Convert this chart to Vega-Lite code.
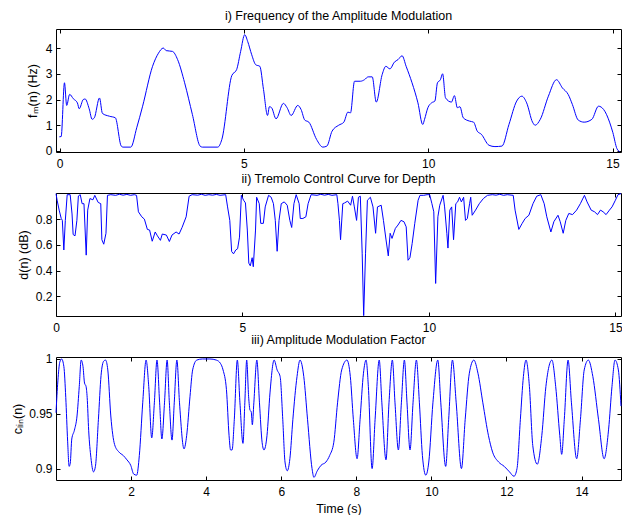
{
  "$schema": "https://vega.github.io/schema/vega-lite/v6.json",
  "autosize": {"type": "pad"},
  "padding": {"left": 11, "top": 9, "right": 0, "bottom": 0},
  "background": "white",
  "config": {
    "font": "Liberation Sans",
    "view": {"stroke": "black", "strokeWidth": 1},
    "axis": {"grid": false, "domain": false, "tickColor": "black", "tickSize": -4, "labelColor": "black", "labelFontSize": 12, "labelFont": "Liberation Sans", "titleColor": "black", "titleFontSize": 12.5, "titleFontWeight": "normal", "titleFont": "Liberation Sans", "labelFlush": false, "format": "~g"},
    "axisX": {"labelPadding": 10, "titlePadding": 5},
    "axisY": {"labelPadding": 8, "titlePadding": 4},
    "title": {"fontSize": 12.5, "fontWeight": "normal", "font": "Liberation Sans", "color": "black", "baseline": "alphabetic", "offset": 6, "anchor": "middle"},
    "line": {"color": "#0000ff", "strokeWidth": 1, "clip": true}
  },
  "bounds": "flush",
  "spacing": 41,
  "datasets": {
    "fm": [
      {"t": -0.01, "v": 0.55}, {"t": 0.04, "v": 0.56}, {"t": 0.13, "v": 2.65}, {"t": 0.19, "v": 1.77}, {"t": 0.27, "v": 2.2}, {"t": 0.37, "v": 2.03}, {"t": 0.48, "v": 1.87}, {"t": 0.53, "v": 1.64}, {"t": 0.64, "v": 2.0}, {"t": 0.69, "v": 2.02}, {"t": 0.8, "v": 1.64}, {"t": 0.88, "v": 1.23}, {"t": 0.94, "v": 1.29}, {"t": 1.08, "v": 2.06}, {"t": 1.16, "v": 1.46}, {"t": 1.35, "v": 1.35}, {"t": 1.51, "v": 1.29}, {"t": 1.67, "v": 0.19}, {"t": 1.72, "v": 0.15}, {"t": 1.93, "v": 0.15}, {"t": 2.09, "v": 0.9}, {"t": 2.25, "v": 1.74}, {"t": 2.52, "v": 3.29}, {"t": 2.68, "v": 3.8}, {"t": 2.81, "v": 4.0}, {"t": 2.89, "v": 3.9}, {"t": 3.06, "v": 3.87}, {"t": 3.2, "v": 3.55}, {"t": 3.39, "v": 2.65}, {"t": 3.6, "v": 1.42}, {"t": 3.81, "v": 0.19}, {"t": 3.87, "v": 0.15}, {"t": 4.29, "v": 0.15}, {"t": 4.4, "v": 0.45}, {"t": 4.67, "v": 2.93}, {"t": 4.8, "v": 3.16}, {"t": 4.91, "v": 3.87}, {"t": 5.02, "v": 4.52}, {"t": 5.1, "v": 4.26}, {"t": 5.21, "v": 3.74}, {"t": 5.32, "v": 3.35}, {"t": 5.43, "v": 3.29}, {"t": 5.53, "v": 2.39}, {"t": 5.64, "v": 1.38}, {"t": 5.69, "v": 1.72}, {"t": 5.75, "v": 1.68}, {"t": 5.87, "v": 1.25}, {"t": 6.07, "v": 1.85}, {"t": 6.17, "v": 1.68}, {"t": 6.28, "v": 1.38}, {"t": 6.46, "v": 1.77}, {"t": 6.55, "v": 1.61}, {"t": 6.65, "v": 1.2}, {"t": 6.76, "v": 1.12}, {"t": 6.97, "v": 0.45}, {"t": 7.14, "v": 0.15}, {"t": 7.25, "v": 0.19}, {"t": 7.39, "v": 0.77}, {"t": 7.57, "v": 1.0}, {"t": 7.71, "v": 1.12}, {"t": 7.82, "v": 1.51}, {"t": 7.89, "v": 1.48}, {"t": 8.0, "v": 2.71}, {"t": 8.16, "v": 2.71}, {"t": 8.27, "v": 2.77}, {"t": 8.37, "v": 2.88}, {"t": 8.48, "v": 2.88}, {"t": 8.59, "v": 1.9}, {"t": 8.75, "v": 2.97}, {"t": 8.85, "v": 3.29}, {"t": 8.96, "v": 3.19}, {"t": 9.08, "v": 3.45}, {"t": 9.18, "v": 3.55}, {"t": 9.29, "v": 3.7}, {"t": 9.4, "v": 3.29}, {"t": 9.56, "v": 2.65}, {"t": 9.72, "v": 1.87}, {"t": 9.85, "v": 1.03}, {"t": 9.9, "v": 1.23}, {"t": 9.99, "v": 1.68}, {"t": 10.09, "v": 1.87}, {"t": 10.18, "v": 1.94}, {"t": 10.25, "v": 2.65}, {"t": 10.33, "v": 2.77}, {"t": 10.39, "v": 3.0}, {"t": 10.47, "v": 2.06}, {"t": 10.63, "v": 1.9}, {"t": 10.71, "v": 2.15}, {"t": 10.79, "v": 1.68}, {"t": 10.86, "v": 1.72}, {"t": 10.95, "v": 1.29}, {"t": 11.12, "v": 1.16}, {"t": 11.23, "v": 1.12}, {"t": 11.33, "v": 0.77}, {"t": 11.44, "v": 0.65}, {"t": 11.65, "v": 0.22}, {"t": 11.81, "v": 0.17}, {"t": 12.0, "v": 0.19}, {"t": 12.19, "v": 1.03}, {"t": 12.4, "v": 1.94}, {"t": 12.54, "v": 2.13}, {"t": 12.67, "v": 1.87}, {"t": 12.83, "v": 1.12}, {"t": 12.9, "v": 1.0}, {"t": 13.04, "v": 1.23}, {"t": 13.26, "v": 2.13}, {"t": 13.48, "v": 2.77}, {"t": 13.64, "v": 2.45}, {"t": 13.8, "v": 2.19}, {"t": 13.91, "v": 1.81}, {"t": 14.07, "v": 1.2}, {"t": 14.23, "v": 1.12}, {"t": 14.44, "v": 1.23}, {"t": 14.62, "v": 1.74}, {"t": 14.76, "v": 1.61}, {"t": 14.92, "v": 1.12}, {"t": 15.01, "v": 0.71}, {"t": 15.12, "v": 0.09}, {"t": 15.2, "v": -0.03}
    ],
    "depth": [
      {"t": 0, "v": 0.998}, {"t": 0.03, "v": 0.947}, {"t": 0.085, "v": 0.87}, {"t": 0.14, "v": 0.805}, {"t": 0.17, "v": 0.79}, {"t": 0.21, "v": 0.56}, {"t": 0.25, "v": 0.79}, {"t": 0.3, "v": 0.99}, {"t": 0.38, "v": 0.99}, {"t": 0.43, "v": 0.84}, {"t": 0.46, "v": 0.68}, {"t": 0.51, "v": 0.67}, {"t": 0.56, "v": 0.79}, {"t": 0.6, "v": 0.98}, {"t": 0.65, "v": 0.99}, {"t": 0.7, "v": 0.92}, {"t": 0.75, "v": 0.92}, {"t": 0.81, "v": 0.52}, {"t": 0.85, "v": 0.87}, {"t": 0.91, "v": 0.96}, {"t": 0.99, "v": 0.95}, {"t": 1.04, "v": 0.985}, {"t": 1.13, "v": 0.93}, {"t": 1.2, "v": 0.92}, {"t": 1.23, "v": 0.64}, {"t": 1.28, "v": 0.605}, {"t": 1.34, "v": 0.69}, {"t": 1.38, "v": 0.985}, {"t": 1.47, "v": 0.99}, {"t": 1.6, "v": 0.985}, {"t": 1.7, "v": 0.993}, {"t": 1.8, "v": 0.986}, {"t": 1.9, "v": 0.992}, {"t": 2.0, "v": 0.985}, {"t": 2.1, "v": 0.99}, {"t": 2.16, "v": 0.985}, {"t": 2.21, "v": 0.857}, {"t": 2.3, "v": 0.818}, {"t": 2.37, "v": 0.8}, {"t": 2.45, "v": 0.72}, {"t": 2.51, "v": 0.715}, {"t": 2.58, "v": 0.628}, {"t": 2.66, "v": 0.7}, {"t": 2.72, "v": 0.67}, {"t": 2.8, "v": 0.635}, {"t": 2.85, "v": 0.684}, {"t": 2.96, "v": 0.676}, {"t": 3.04, "v": 0.626}, {"t": 3.11, "v": 0.676}, {"t": 3.22, "v": 0.7}, {"t": 3.3, "v": 0.684}, {"t": 3.38, "v": 0.735}, {"t": 3.49, "v": 0.818}, {"t": 3.57, "v": 0.978}, {"t": 3.65, "v": 0.99}, {"t": 3.8, "v": 0.986}, {"t": 3.9, "v": 0.993}, {"t": 4.0, "v": 0.985}, {"t": 4.1, "v": 0.99}, {"t": 4.2, "v": 0.986}, {"t": 4.3, "v": 0.992}, {"t": 4.4, "v": 0.985}, {"t": 4.55, "v": 0.99}, {"t": 4.6, "v": 0.895}, {"t": 4.66, "v": 0.79}, {"t": 4.71, "v": 0.548}, {"t": 4.76, "v": 0.53}, {"t": 4.82, "v": 0.56}, {"t": 4.87, "v": 0.57}, {"t": 4.92, "v": 0.66}, {"t": 4.97, "v": 0.985}, {"t": 5.03, "v": 0.947}, {"t": 5.08, "v": 0.926}, {"t": 5.13, "v": 0.715}, {"t": 5.17, "v": 0.458}, {"t": 5.21, "v": 0.437}, {"t": 5.26, "v": 0.5}, {"t": 5.29, "v": 0.43}, {"t": 5.35, "v": 0.715}, {"t": 5.38, "v": 0.97}, {"t": 5.45, "v": 0.92}, {"t": 5.49, "v": 0.767}, {"t": 5.56, "v": 0.767}, {"t": 5.61, "v": 0.895}, {"t": 5.7, "v": 0.985}, {"t": 5.77, "v": 0.97}, {"t": 5.83, "v": 0.92}, {"t": 5.88, "v": 0.79}, {"t": 5.93, "v": 0.55}, {"t": 5.98, "v": 0.79}, {"t": 6.04, "v": 0.92}, {"t": 6.12, "v": 0.934}, {"t": 6.2, "v": 0.908}, {"t": 6.27, "v": 0.79}, {"t": 6.32, "v": 0.735}, {"t": 6.38, "v": 0.92}, {"t": 6.44, "v": 0.99}, {"t": 6.52, "v": 0.92}, {"t": 6.55, "v": 0.805}, {"t": 6.62, "v": 0.805}, {"t": 6.7, "v": 0.818}, {"t": 6.76, "v": 0.92}, {"t": 6.84, "v": 0.99}, {"t": 7.0, "v": 0.985}, {"t": 7.1, "v": 0.993}, {"t": 7.2, "v": 0.986}, {"t": 7.3, "v": 0.992}, {"t": 7.4, "v": 0.985}, {"t": 7.53, "v": 0.99}, {"t": 7.56, "v": 0.92}, {"t": 7.6, "v": 0.79}, {"t": 7.63, "v": 0.64}, {"t": 7.69, "v": 0.92}, {"t": 7.74, "v": 0.926}, {"t": 7.82, "v": 0.94}, {"t": 7.9, "v": 0.908}, {"t": 7.95, "v": 0.978}, {"t": 8.0, "v": 0.895}, {"t": 8.06, "v": 0.79}, {"t": 8.11, "v": 0.97}, {"t": 8.16, "v": 0.978}, {"t": 8.21, "v": 0.535}, {"t": 8.25, "v": 0.05}, {"t": 8.3, "v": 0.535}, {"t": 8.35, "v": 0.947}, {"t": 8.43, "v": 0.97}, {"t": 8.5, "v": 0.895}, {"t": 8.57, "v": 0.69}, {"t": 8.62, "v": 0.895}, {"t": 8.72, "v": 0.908}, {"t": 8.78, "v": 0.79}, {"t": 8.85, "v": 0.638}, {"t": 8.91, "v": 0.514}, {"t": 8.96, "v": 0.69}, {"t": 9.01, "v": 0.65}, {"t": 9.1, "v": 0.728}, {"t": 9.17, "v": 0.754}, {"t": 9.25, "v": 0.79}, {"t": 9.33, "v": 0.78}, {"t": 9.39, "v": 0.74}, {"t": 9.44, "v": 0.48}, {"t": 9.49, "v": 0.5}, {"t": 9.55, "v": 0.61}, {"t": 9.62, "v": 0.767}, {"t": 9.71, "v": 0.947}, {"t": 9.76, "v": 0.985}, {"t": 9.86, "v": 0.985}, {"t": 9.95, "v": 0.99}, {"t": 10.02, "v": 0.99}, {"t": 10.08, "v": 0.92}, {"t": 10.13, "v": 0.857}, {"t": 10.18, "v": 0.3}, {"t": 10.24, "v": 0.818}, {"t": 10.29, "v": 0.908}, {"t": 10.38, "v": 0.985}, {"t": 10.42, "v": 0.895}, {"t": 10.48, "v": 0.69}, {"t": 10.51, "v": 0.575}, {"t": 10.56, "v": 0.87}, {"t": 10.61, "v": 0.895}, {"t": 10.66, "v": 0.64}, {"t": 10.72, "v": 0.92}, {"t": 10.77, "v": 0.934}, {"t": 10.82, "v": 0.97}, {"t": 10.87, "v": 0.934}, {"t": 10.93, "v": 0.97}, {"t": 10.98, "v": 0.79}, {"t": 11.03, "v": 0.805}, {"t": 11.09, "v": 0.92}, {"t": 11.12, "v": 0.97}, {"t": 11.16, "v": 0.83}, {"t": 11.25, "v": 0.87}, {"t": 11.35, "v": 0.92}, {"t": 11.46, "v": 0.96}, {"t": 11.57, "v": 0.985}, {"t": 11.7, "v": 0.99}, {"t": 11.8, "v": 0.986}, {"t": 11.9, "v": 0.993}, {"t": 12.0, "v": 0.985}, {"t": 12.1, "v": 0.99}, {"t": 12.26, "v": 0.985}, {"t": 12.31, "v": 0.87}, {"t": 12.41, "v": 0.72}, {"t": 12.5, "v": 0.767}, {"t": 12.58, "v": 0.805}, {"t": 12.68, "v": 0.83}, {"t": 12.79, "v": 0.92}, {"t": 12.89, "v": 0.978}, {"t": 13.0, "v": 0.99}, {"t": 13.09, "v": 0.92}, {"t": 13.16, "v": 0.818}, {"t": 13.27, "v": 0.7}, {"t": 13.35, "v": 0.78}, {"t": 13.46, "v": 0.83}, {"t": 13.52, "v": 0.78}, {"t": 13.6, "v": 0.69}, {"t": 13.67, "v": 0.79}, {"t": 13.75, "v": 0.844}, {"t": 13.85, "v": 0.835}, {"t": 13.96, "v": 0.87}, {"t": 14.06, "v": 0.92}, {"t": 14.17, "v": 0.985}, {"t": 14.24, "v": 0.934}, {"t": 14.35, "v": 0.87}, {"t": 14.44, "v": 0.857}, {"t": 14.52, "v": 0.835}, {"t": 14.6, "v": 0.87}, {"t": 14.67, "v": 0.857}, {"t": 14.75, "v": 0.835}, {"t": 14.84, "v": 0.87}, {"t": 14.91, "v": 0.895}, {"t": 15.0, "v": 0.947}, {"t": 15.07, "v": 0.99}, {"t": 15.15, "v": 0.998}
    ],
    "clin": [
      {"t": 0, "v": 0.951}, {"t": 0.05, "v": 0.98}, {"t": 0.1, "v": 0.997}, {"t": 0.15, "v": 1.0}, {"t": 0.21, "v": 0.993}, {"t": 0.26, "v": 0.965}, {"t": 0.31, "v": 0.925}, {"t": 0.35, "v": 0.902}, {"t": 0.38, "v": 0.905}, {"t": 0.42, "v": 0.927}, {"t": 0.49, "v": 0.935}, {"t": 0.56, "v": 0.948}, {"t": 0.62, "v": 0.975}, {"t": 0.67, "v": 0.999}, {"t": 0.72, "v": 0.993}, {"t": 0.76, "v": 0.978}, {"t": 0.8, "v": 0.975}, {"t": 0.83, "v": 0.965}, {"t": 0.87, "v": 0.935}, {"t": 0.93, "v": 0.91}, {"t": 1.0, "v": 0.897}, {"t": 1.05, "v": 0.902}, {"t": 1.13, "v": 0.945}, {"t": 1.2, "v": 0.985}, {"t": 1.27, "v": 0.998}, {"t": 1.32, "v": 0.999}, {"t": 1.38, "v": 0.99}, {"t": 1.46, "v": 0.948}, {"t": 1.56, "v": 0.922}, {"t": 1.68, "v": 0.915}, {"t": 1.79, "v": 0.912}, {"t": 1.89, "v": 0.908}, {"t": 1.99, "v": 0.903}, {"t": 2.07, "v": 0.895}, {"t": 2.15, "v": 0.894}, {"t": 2.22, "v": 0.912}, {"t": 2.31, "v": 0.96}, {"t": 2.4, "v": 0.999}, {"t": 2.47, "v": 0.975}, {"t": 2.55, "v": 0.928}, {"t": 2.62, "v": 0.96}, {"t": 2.69, "v": 0.999}, {"t": 2.76, "v": 0.96}, {"t": 2.82, "v": 0.927}, {"t": 2.89, "v": 0.96}, {"t": 2.96, "v": 0.999}, {"t": 3.02, "v": 0.96}, {"t": 3.09, "v": 0.926}, {"t": 3.15, "v": 0.96}, {"t": 3.22, "v": 0.999}, {"t": 3.29, "v": 0.96}, {"t": 3.41, "v": 0.918}, {"t": 3.48, "v": 0.93}, {"t": 3.57, "v": 0.966}, {"t": 3.64, "v": 0.99}, {"t": 3.75, "v": 0.999}, {"t": 3.9, "v": 1.0}, {"t": 4.1, "v": 1.0}, {"t": 4.27, "v": 0.999}, {"t": 4.38, "v": 0.996}, {"t": 4.45, "v": 0.99}, {"t": 4.54, "v": 0.972}, {"t": 4.61, "v": 0.93}, {"t": 4.65, "v": 0.917}, {"t": 4.69, "v": 0.917}, {"t": 4.75, "v": 0.945}, {"t": 4.83, "v": 0.999}, {"t": 4.9, "v": 0.96}, {"t": 4.98, "v": 0.923}, {"t": 5.03, "v": 0.96}, {"t": 5.08, "v": 0.999}, {"t": 5.13, "v": 0.966}, {"t": 5.17, "v": 0.953}, {"t": 5.2, "v": 0.952}, {"t": 5.23, "v": 0.94}, {"t": 5.27, "v": 0.96}, {"t": 5.35, "v": 0.999}, {"t": 5.42, "v": 0.96}, {"t": 5.49, "v": 0.924}, {"t": 5.54, "v": 0.917}, {"t": 5.62, "v": 0.93}, {"t": 5.7, "v": 0.969}, {"t": 5.81, "v": 0.999}, {"t": 5.89, "v": 0.99}, {"t": 5.97, "v": 0.984}, {"t": 6.04, "v": 0.945}, {"t": 6.1, "v": 0.906}, {"t": 6.16, "v": 0.898}, {"t": 6.23, "v": 0.909}, {"t": 6.31, "v": 0.945}, {"t": 6.42, "v": 0.984}, {"t": 6.5, "v": 0.999}, {"t": 6.6, "v": 0.984}, {"t": 6.7, "v": 0.945}, {"t": 6.82, "v": 0.9}, {"t": 6.87, "v": 0.892}, {"t": 6.96, "v": 0.898}, {"t": 7.06, "v": 0.903}, {"t": 7.19, "v": 0.906}, {"t": 7.29, "v": 0.912}, {"t": 7.4, "v": 0.924}, {"t": 7.5, "v": 0.96}, {"t": 7.61, "v": 0.99}, {"t": 7.75, "v": 0.999}, {"t": 7.84, "v": 0.984}, {"t": 7.92, "v": 0.945}, {"t": 8.02, "v": 0.909}, {"t": 8.1, "v": 0.945}, {"t": 8.19, "v": 0.987}, {"t": 8.26, "v": 0.999}, {"t": 8.32, "v": 0.975}, {"t": 8.42, "v": 0.9}, {"t": 8.5, "v": 0.945}, {"t": 8.61, "v": 0.999}, {"t": 8.68, "v": 0.96}, {"t": 8.79, "v": 0.908}, {"t": 8.87, "v": 0.96}, {"t": 8.96, "v": 0.999}, {"t": 9.03, "v": 0.96}, {"t": 9.12, "v": 0.917}, {"t": 9.2, "v": 0.96}, {"t": 9.28, "v": 0.999}, {"t": 9.35, "v": 0.96}, {"t": 9.43, "v": 0.917}, {"t": 9.51, "v": 0.96}, {"t": 9.6, "v": 0.999}, {"t": 9.68, "v": 0.96}, {"t": 9.76, "v": 0.912}, {"t": 9.85, "v": 0.894}, {"t": 9.93, "v": 0.906}, {"t": 10.04, "v": 0.96}, {"t": 10.17, "v": 0.999}, {"t": 10.25, "v": 0.96}, {"t": 10.38, "v": 0.902}, {"t": 10.46, "v": 0.945}, {"t": 10.56, "v": 0.999}, {"t": 10.66, "v": 0.96}, {"t": 10.8, "v": 0.9}, {"t": 10.9, "v": 0.945}, {"t": 11.01, "v": 0.987}, {"t": 11.13, "v": 0.999}, {"t": 11.24, "v": 0.987}, {"t": 11.37, "v": 0.96}, {"t": 11.52, "v": 0.93}, {"t": 11.63, "v": 0.915}, {"t": 11.79, "v": 0.906}, {"t": 11.94, "v": 0.902}, {"t": 12.08, "v": 0.897}, {"t": 12.2, "v": 0.893}, {"t": 12.28, "v": 0.9}, {"t": 12.37, "v": 0.945}, {"t": 12.45, "v": 0.984}, {"t": 12.52, "v": 0.999}, {"t": 12.61, "v": 0.975}, {"t": 12.7, "v": 0.921}, {"t": 12.82, "v": 0.904}, {"t": 12.94, "v": 0.93}, {"t": 13.05, "v": 0.975}, {"t": 13.21, "v": 0.999}, {"t": 13.31, "v": 0.975}, {"t": 13.42, "v": 0.93}, {"t": 13.47, "v": 0.913}, {"t": 13.54, "v": 0.945}, {"t": 13.64, "v": 0.999}, {"t": 13.73, "v": 0.96}, {"t": 13.87, "v": 0.909}, {"t": 13.97, "v": 0.945}, {"t": 14.07, "v": 0.99}, {"t": 14.18, "v": 0.999}, {"t": 14.3, "v": 0.984}, {"t": 14.45, "v": 0.945}, {"t": 14.6, "v": 0.909}, {"t": 14.72, "v": 0.936}, {"t": 14.81, "v": 0.975}, {"t": 14.89, "v": 0.999}, {"t": 14.98, "v": 0.99}, {"t": 15.05, "v": 0.957}
    ]
  },
  "vconcat": [
    {
      "width": 565, "height": 123,
      "title": {"text": "i) Frequency of the Amplitude Modulation"},
      "data": {"name": "fm"},
      "layer": [
        {
          "mark": {"type": "line", "interpolate": "monotone"},
          "encoding": {
            "x": {"field": "t", "type": "quantitative", "scale": {"domain": [-0.1, 15.23], "nice": false, "zero": false}, "axis": {"values": [0, 5, 10, 15], "title": null}},
            "y": {"field": "v", "type": "quantitative", "scale": {"domain": [-0.04, 4.74], "nice": false, "zero": false}, "axis": {"values": [0, 1, 2, 3, 4], "title": "fₘ(n) (Hz)", "titlePadding": 6}}
          }
        },
        {
          "mark": {"type": "line", "opacity": 0},
          "encoding": {
            "x": {"field": "t", "type": "quantitative", "axis": {"orient": "top", "values": [0, 5, 10, 15], "labels": false, "title": null}},
            "y": {"field": "v", "type": "quantitative", "axis": {"orient": "right", "values": [0, 1, 2, 3, 4], "labels": false, "title": null}}
          }
        }
      ],
      "resolve": {"axis": {"x": "independent", "y": "independent"}}
    },
    {
      "width": 565, "height": 123,
      "title": {"text": "ii) Tremolo Control Curve for Depth"},
      "data": {"name": "depth"},
      "layer": [
        {
          "mark": {"type": "line", "interpolate": "linear"},
          "encoding": {
            "x": {"field": "t", "type": "quantitative", "scale": {"domain": [0, 15.15], "nice": false, "zero": false}, "axis": {"values": [0, 5, 10, 15], "title": null}},
            "y": {"field": "v", "type": "quantitative", "scale": {"domain": [0.047, 1.003], "nice": false, "zero": false}, "axis": {"values": [0.2, 0.4, 0.6, 0.8], "title": "d(n) (dB)", "titlePadding": 5}}
          }
        },
        {
          "mark": {"type": "line", "opacity": 0},
          "encoding": {
            "x": {"field": "t", "type": "quantitative", "axis": {"orient": "top", "values": [0, 5, 10, 15], "labels": false, "title": null}},
            "y": {"field": "v", "type": "quantitative", "axis": {"orient": "right", "values": [0.2, 0.4, 0.6, 0.8], "labels": false, "title": null}}
          }
        }
      ],
      "resolve": {"axis": {"x": "independent", "y": "independent"}}
    },
    {
      "width": 565, "height": 123,
      "title": {"text": "iii) Amplitude Modulation Factor"},
      "data": {"name": "clin"},
      "layer": [
        {
          "mark": {"type": "line", "interpolate": "monotone"},
          "encoding": {
            "x": {"field": "t", "type": "quantitative", "scale": {"domain": [0, 15.05], "nice": false, "zero": false}, "axis": {"values": [2, 4, 6, 8, 10, 12, 14], "title": "Time (s)"}},
            "y": {"field": "v", "type": "quantitative", "scale": {"domain": [0.8896, 1.0018], "nice": false, "zero": false}, "axis": {"values": [0.9, 0.95, 1], "title": "cₗᵢₙ(n)", "titlePadding": 4}}
          }
        },
        {
          "mark": {"type": "line", "opacity": 0},
          "encoding": {
            "x": {"field": "t", "type": "quantitative", "axis": {"orient": "top", "values": [2, 4, 6, 8, 10, 12, 14], "labels": false, "title": null}},
            "y": {"field": "v", "type": "quantitative", "axis": {"orient": "right", "values": [0.9, 0.95, 1], "labels": false, "title": null}}
          }
        }
      ],
      "resolve": {"axis": {"x": "independent", "y": "independent"}}
    }
  ]
}
